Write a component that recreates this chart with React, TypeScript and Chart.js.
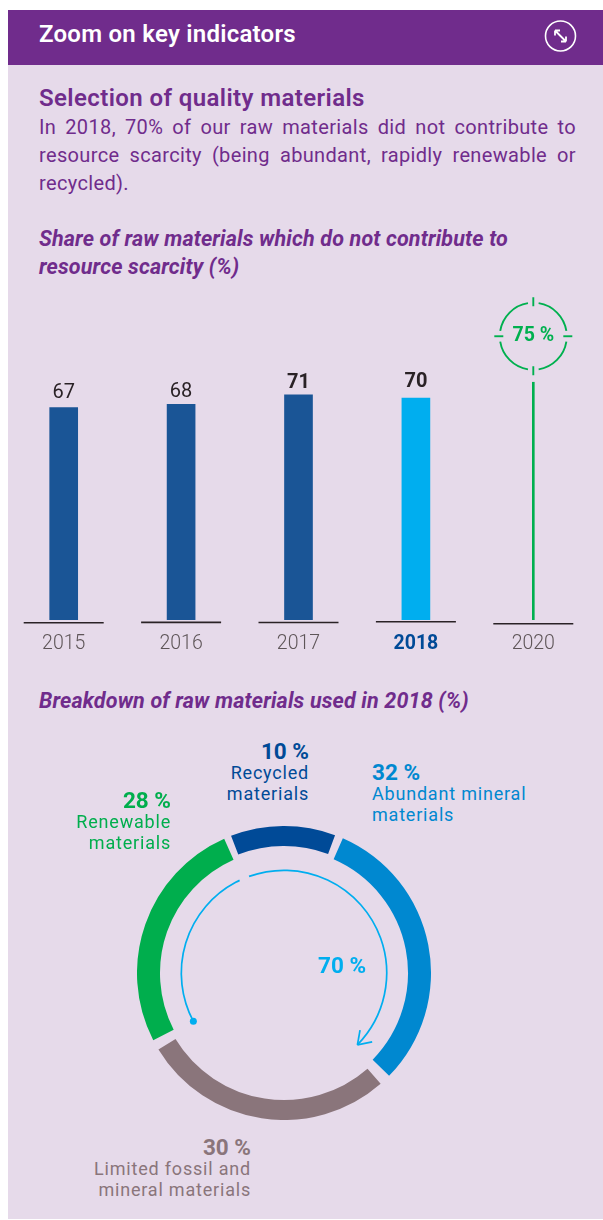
import React, { useEffect, useRef } from "react";
import { Chart, registerables } from "chart.js";

Chart.register(...registerables);

const years = ["2015", "2016", "2017", "2018", "2020"];
const actualShare = [67, 68, 71, 70, null];
const targetShare = [null, null, null, null, 75];
const valueBold = [false, false, true, true];
const valueLift = [14.5, 12, 12, 16];
const ruleDrop = [2.7, 2.4, 2.5, 1.8, 3.7];

const ringLabels = ["Recycled materials", "Abundant mineral materials", "Limited fossil and mineral materials", "Renewable materials"];
// Printed shares of the breakdown
const printedShares = [10, 32, 30, 28];
// The ring in the picture is not drawn to scale: these are the arc lengths measured on it (in % of the turn).
const ringArcs = [12, 32.1, 28.9, 27];
const ringColors = ["#004A97", "#0088D0", "#8A757B", "#00AE4D"];
const ringThickness = [20, 23, 20, 23];

const FONT = "Roboto, sans-serif";
const PANEL = "#E6DAEA";
const PURPLE = "#702C8C";
const SKY = "#00AEEF";
const GREEN = "#00B04F";

const barPlugin = {
  id: "barExtras",
  afterDraw(chart: any) {
    const { ctx } = chart;
    const x = chart.scales.x;
    const y = chart.scales.y;
    ctx.save();
    // baseline rule under every category
    ctx.strokeStyle = "#2A2226";
    ctx.lineWidth = 1.6;
    years.forEach((_, i) => {
      const cx = x.getPixelForTick(i);
      const by = y.getPixelForValue(0) + ruleDrop[i];
      ctx.beginPath();
      ctx.moveTo(cx - 40, by);
      ctx.lineTo(cx + 40, by);
      ctx.stroke();
    });
    // value labels
    ctx.textAlign = "center";
    ctx.textBaseline = "middle";
    ctx.fillStyle = "#2A2226";
    actualShare.forEach((v, i) => {
      if (v == null) return;
      ctx.font = `${valueBold[i] ? 700 : 400} 20px ${FONT}`;
      ctx.fillText(String(v), x.getPixelForTick(i), y.getPixelForValue(v) - valueLift[i]);
    });
    // target roundel on top of the 2020 line
    const cx = x.getPixelForTick(4);
    const cy = y.getPixelForValue(75) - 46;
    const R = 33.5;
    ctx.strokeStyle = GREEN;
    ctx.lineWidth = 1.9;
    for (let q = 0; q < 4; q++) {
      const a = (q * Math.PI) / 2;
      ctx.beginPath();
      ctx.arc(cx, cy, R, a + 0.16, a + Math.PI / 2 - 0.16);
      ctx.stroke();
      ctx.beginPath();
      ctx.moveTo(cx + Math.cos(a) * 30, cy + Math.sin(a) * 30);
      ctx.lineTo(cx + Math.cos(a) * 39, cy + Math.sin(a) * 39);
      ctx.stroke();
    }
    ctx.fillStyle = GREEN;
    ctx.font = `700 19.5px ${FONT}`;
    ctx.fillText("75 %", cx, cy);
    ctx.restore();
  },
};

const ringPlugin = {
  id: "ringExtras",
  afterDatasetsUpdate(chart: any) {
    const arcs = chart.getDatasetMeta(0).data;
    arcs.forEach((arc: any, i: number) => {
      arc.innerRadius = arc.outerRadius - ringThickness[i];
    });
  },
  afterDraw(chart: any) {
    const { ctx } = chart;
    const arcs = chart.getDatasetMeta(0).data;
    const cx = arcs[0].x;
    const cy = arcs[0].y;
    const r = 102.7;
    const start = arcs[3].startAngle + 0.02;
    const end = arcs[1].endAngle - 0.042;
    const split = arcs[0].startAngle - 0.013;
    ctx.save();
    ctx.strokeStyle = SKY;
    ctx.fillStyle = SKY;
    ctx.lineWidth = 1.7;
    ctx.beginPath();
    ctx.arc(cx, cy, r, start, split - 0.05);
    ctx.stroke();
    ctx.beginPath();
    ctx.arc(cx, cy, r, split + 0.05, end);
    ctx.stroke();
    ctx.beginPath();
    ctx.arc(cx + Math.cos(start) * r, cy + Math.sin(start) * r, 3.5, 0, Math.PI * 2);
    ctx.fill();
    // arrow head
    const hx = cx + Math.cos(end) * r;
    const hy = cy + Math.sin(end) * r;
    const dir = end + Math.PI / 2;
    [0.6, -0.6].forEach((d) => {
      ctx.beginPath();
      ctx.moveTo(hx, hy);
      ctx.lineTo(hx - Math.cos(dir + d) * 15, hy - Math.sin(dir + d) * 15);
      ctx.stroke();
    });
    ctx.restore();
  },
};

const abs = (left: number, top: number, extra: any = {}) => ({
  position: "absolute" as const,
  left,
  top,
  whiteSpace: "nowrap" as const,
  fontFamily: FONT,
  ...extra,
});

function Label({ right, left, top, color, pct, lines }: any) {
  const pos: any = right != null ? { right: 603 - right, textAlign: "right" } : { left, textAlign: "left" };
  return (
    <div style={{ position: "absolute", top, color, fontFamily: FONT, whiteSpace: "nowrap", ...pos }}>
      <div style={{ fontSize: 22.5, fontWeight: 700, lineHeight: "22px" }}>{pct} %</div>
      {lines.map((l: string) => (
        <div key={l} style={{ fontSize: 18, lineHeight: "21px", letterSpacing: 0.8 }}>{l}</div>
      ))}
    </div>
  );
}

const bodyLine = { color: PURPLE, fontSize: 20, lineHeight: "28px", letterSpacing: 0.35 };
const italicLine = { color: PURPLE, fontSize: 21.5, fontWeight: 700, fontStyle: "italic", lineHeight: "28px", letterSpacing: 0.15 };

export default function App() {
  const barRef = useRef<HTMLCanvasElement>(null);
  const ringRef = useRef<HTMLCanvasElement>(null);

  useEffect(() => {
    const bars = new Chart(barRef.current!, {
      type: "bar",
      plugins: [barPlugin],
      data: {
        labels: years,
        datasets: [
          {
            data: actualShare,
            barThickness: 28,
            backgroundColor: ["#1A5596", "#1A5596", "#1A5596", SKY, SKY],
          },
          { data: targetShare, barThickness: 2, backgroundColor: GREEN },
        ],
      },
      options: {
        animation: false,
        responsive: false,
        layout: { padding: { left: 5, right: 11, top: 23, bottom: 0 } },
        plugins: { legend: { display: false }, tooltip: { enabled: false } },
        scales: {
          y: { display: false, stacked: true, min: 0, max: 100 },
          x: {
            stacked: true,
            afterFit: (s: any) => {
              s.height = 40;
            },
            grid: { display: false },
            border: { display: false },
            ticks: {
              padding: 4,
              maxRotation: 0,
              color: (c: any) => (c.index === 3 ? "#004A97" : "#5E5558"),
              font: (c: any) => ({ family: FONT, size: 19.5, weight: c.index === 3 ? 700 : 300 }),
            },
          },
        },
      },
    } as any);

    const ring = new Chart(ringRef.current!, {
      type: "doughnut",
      plugins: [ringPlugin],
      data: {
        labels: ringLabels,
        datasets: [{ data: ringArcs, backgroundColor: ringColors, borderWidth: 0, spacing: 11 }],
      },
      options: {
        animation: false,
        responsive: false,
        rotation: -22,
        cutout: "80%",
        plugins: { legend: { display: false }, tooltip: { enabled: false } },
      },
    } as any);

    return () => {
      bars.destroy();
      ring.destroy();
    };
  }, []);

  return (
    <div style={{ position: "absolute", left: 0, top: 0, width: 603, height: 1220, background: "#fff", overflow: "hidden" }}>
      <div style={{ position: "absolute", left: 8, top: 10, width: 595, height: 1209, background: PANEL }} />
      <div style={{ position: "absolute", left: 8, top: 10, width: 595, height: 55, background: PURPLE }} />
      <div style={abs(39, 20, { color: "#fff", fontSize: 24, fontWeight: 600, lineHeight: "28px", letterSpacing: 0.25 })}>Zoom on key indicators</div>
      <svg style={{ position: "absolute", left: 544, top: 20 }} width="34" height="34" viewBox="0 0 34 34">
        <circle cx="16.5" cy="16" r="15" fill="none" stroke="#fff" strokeWidth="1.6" />
        <path d="M11 10.5 L22 21.5 M11 10.5 l5 0 M11 10.5 l0 5 M22 21.5 l-5 0 M22 21.5 l0 -5" stroke="#fff" strokeWidth="1.8" fill="none" />
      </svg>
      <div style={abs(39, 84, { color: PURPLE, fontSize: 24, fontWeight: 600, lineHeight: "28px", letterSpacing: 0.4 })}>Selection of quality materials</div>
      <div style={abs(39, 113, { ...bodyLine, width: 537, whiteSpace: "normal", textAlign: "justify", textAlignLast: "justify" })}>In 2018, 70% of our raw materials did not contribute to</div>
      <div style={abs(39, 141, { ...bodyLine, width: 537, whiteSpace: "normal", textAlign: "justify", textAlignLast: "justify" })}>resource scarcity (being abundant, rapidly renewable or</div>
      <div style={abs(39, 169, bodyLine)}>recycled).</div>
      <div style={abs(39, 225, italicLine)}>Share of raw materials which do not contribute to</div>
      <div style={abs(39, 253, italicLine)}>resource scarcity (%)</div>
      <div style={abs(39, 687, italicLine)}>Breakdown of raw materials used in 2018 (%)</div>

      <canvas ref={barRef} width={603} height={380} style={{ position: "absolute", left: 0, top: 280, width: 603, height: 380 }} />
      <canvas ref={ringRef} width={294} height={294} style={{ position: "absolute", left: 137, top: 826, width: 294, height: 294 }} />

      <Label right={309} top={740} color="#004A97" pct={printedShares[0]} lines={["Recycled", "materials"]} />
      <Label left={372} top={761} color="#0088D0" pct={printedShares[1]} lines={["Abundant mineral", "materials"]} />
      <Label right={251} top={1136} color="#8A757B" pct={printedShares[2]} lines={["Limited fossil and", "mineral materials"]} />
      <Label right={171} top={789} color="#00AE4D" pct={printedShares[3]} lines={["Renewable", "materials"]} />
      <div style={abs(318, 954, { color: SKY, fontSize: 22.5, fontWeight: 700, lineHeight: "22px" })}>70 %</div>
    </div>
  );
}
